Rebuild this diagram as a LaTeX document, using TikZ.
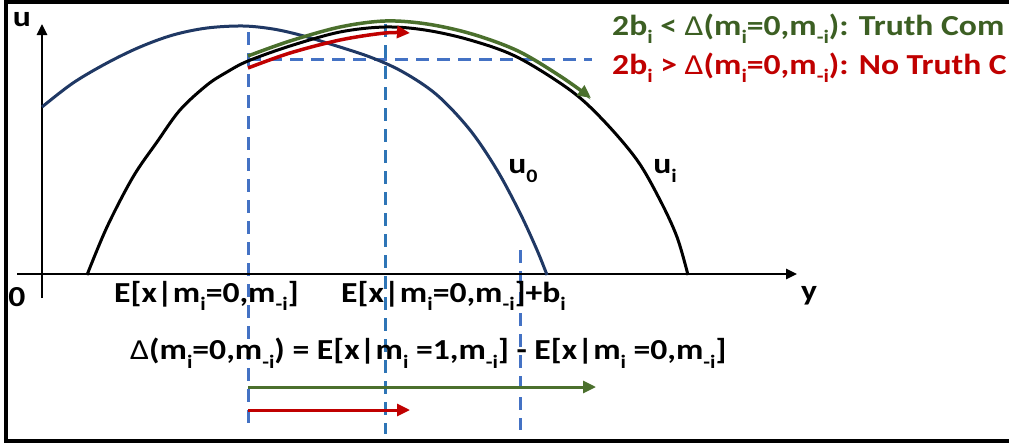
\documentclass[tikz,border=0pt]{standalone}
\usepackage{fontspec}
\setmainfont{Carlito}[FakeStretch=1.16]
\usetikzlibrary{arrows.meta}
\definecolor{navy}{RGB}{31,56,100}
\definecolor{dashblue}{RGB}{68,114,196}
\definecolor{dashcyan}{RGB}{46,117,182}
\definecolor{arrgreen}{RGB}{75,112,45}
\definecolor{txtgreen}{RGB}{60,95,35}
\definecolor{arrred}{RGB}{192,0,0}
\newcommand\sbs[1]{\raisebox{-0.3em}{\fontsize{19}{19}\selectfont #1}}
\newcommand\DD{{\mdseries Δ}}
\tikzset{
  lbl/.style={inner sep=0pt, font=\fontsize{29}{29}\selectfont\bfseries},
  axisline/.style={line width=2.6pt, black},
  guide/.style={line width=3pt, dash pattern=on 13pt off 8pt},
  curve/.style={line width=3pt},
  tipA/.style={-{Triangle[length=13pt,width=12pt]}},
}
\begin{document}
\begin{tikzpicture}[x=1pt,y=-1pt]
\useasboundingbox (0,0) rectangle (1009,447);
\fill[white] (0,0) rectangle (1009,447);
% frame
\draw[line width=4pt] (1012,2) -- (6,2) -- (6,441) -- (1012,441);
% guides
\coordinate (g1t) at (248,32); \coordinate (g1b) at (248,428);
\coordinate (g2t) at (385,24); \coordinate (g2b) at (385,434);
\coordinate (g3t) at (520,250); \coordinate (g3b) at (520,430);
\coordinate (h1) at (248,59); \coordinate (h2) at (592,59);
\draw[guide, dashblue] (g1t) -- (g1b);
\draw[guide, dashcyan] (g2t) -- (g2b);
\draw[guide, dashblue] (g3t) -- (g3b);
\draw[guide, dashblue] (h1) -- (h2);
% axes
\coordinate (xs) at (17,274); \coordinate (xe) at (797,274);
\coordinate (ys) at (42,298); \coordinate (ye) at (42,24);
\draw[axisline, -{Triangle[length=11pt,width=10pt]}] (xs) -- (xe);
\draw[axisline, -{Triangle[length=11pt,width=10pt]}] (ys) -- (ye);
% u0
\draw[curve, navy] plot[smooth, tension=0.55] coordinates {(42,107) (73,83) (107,63) (140,47) (173,35) (207,28) (243,26) (273,29) (300,35) (327,43) (370,57) (403,72) (437,95) (470,130) (497,170) (520,213) (537,250) (547,275)};
% ui
\draw[curve, black] plot[smooth, tension=0.55] coordinates {(87,275) (107,227) (133,177) (157,142) (180,110) (207,85) (227,72) (248,61) (290,46) (340,32) (385,27) (425,30) (470,40) (517,57) (570,90) (603,120) (637,160) (660,200) (677,237) (688,275)};
% green arrow along ui
\draw[curve, arrgreen, line width=3.5pt, tipA] plot[smooth, tension=0.55] coordinates {(248,56) (290,41) (340,27) (385,21) (427,24) (472,34) (518,51) (560,76) (591,98)};
% red arrow
\draw[curve, arrred, line width=3.5pt, tipA] plot[smooth, tension=0.55] coordinates {(248,68) (290,53) (340,40) (385,33) (410,33)};
% bottom arrows
\coordinate (ga) at (248,387); \coordinate (gb) at (596,387);
\coordinate (ra) at (248,410); \coordinate (rb) at (410,410);
\draw[arrgreen, line width=3pt, tipA] (ga) -- (gb);
\draw[arrred, line width=3pt, tipA] (ra) -- (rb);
% labels
\node[lbl, anchor=center] (lu) at (22,20) {u};
\node[lbl, anchor=center] (l0) at (17,297) {0};
\node[lbl, anchor=center] (ly) at (809,296) {y};
\node[lbl, anchor=center] (lu0) at (523,171) {u\sbs{0}};
\node[lbl, anchor=center] (lui) at (665,171) {u\sbs{i}};
\node[lbl, anchor=west] (e1) at (114,296) {E[x|m\sbs{i}=0,m\sbs{-i}]};
\node[lbl, anchor=west] (e2) at (341,296) {E[x|m\sbs{i}=0,m\sbs{-i}]+b\sbs{i}};
\node[lbl, anchor=west] (dl) at (130,353) {\DD(m\sbs{i}=0,m\sbs{-i}) = E[x|m\sbs{i} =1,m\sbs{-i}] - E[x|m\sbs{i} =0,m\sbs{-i}]};
\node[lbl, anchor=base west, text=txtgreen] (tg) at (612,35) {2b\sbs{i} < \DD(m\sbs{i}=0,m\sbs{-i}): Truth Com};
\node[lbl, anchor=base west, text=arrred] (tr) at (612,74) {2b\sbs{i} > \DD(m\sbs{i}=0,m\sbs{-i}): No Truth C};
\end{tikzpicture}
\end{document}
